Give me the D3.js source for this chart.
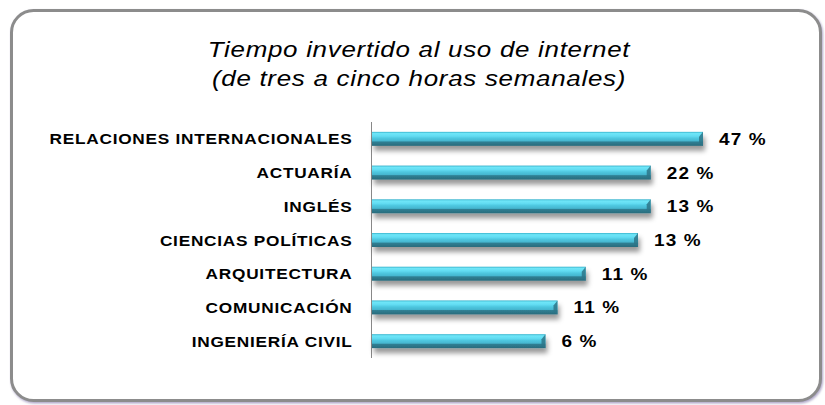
<!DOCTYPE html>
<html>
<head>
<meta charset="utf-8">
<script src="https://cdn.jsdelivr.net/npm/d3@7"></script>
<style>
  body { margin: 0; background: #fff; }
  svg { display: block; }
</style>
</head>
<body>
<div id="chart"></div>
<script>
// categories, top to bottom
var careers = ['RELACIONES INTERNACIONALES', 'ACTUARÍA', 'INGLÉS', 'CIENCIAS POLÍTICAS', 'ARQUITECTURA', 'COMUNICACIÓN', 'INGENIERÍA CIVIL']
// printed labels
var valueLabels = ['47 %', '22 %', '13 %', '13 %', '11 %', '11 %', '6 %']
// bar lengths as drawn (not proportional to the printed labels in the source)
var barValues = [47, 39.6, 39.6, 37.8, 30.4, 26.4, 24.7]
var titleLines = ['Tiempo invertido al uso de internet', '(de tres a cinco horas semanales)']

var w = 825
var h = 405

var svg = d3.select('#chart').append('svg')
  .attr('width', w)
  .attr('height', h)

var defs = svg.append('defs')

var grad = defs.append('linearGradient')
  .attr('id', 'barGrad')
  .attr('x1', 0).attr('y1', 0).attr('x2', 0).attr('y2', 1)
var stops = [
  [0, '#3ab3cc'], [0.12, '#6fe6f8'], [0.3, '#62dcf2'], [0.45, '#4fc8e0'],
  [0.65, '#45b6cf'], [0.72, '#2f7f93'], [1, '#2a6b7c']
]
stops.forEach(function (s) {
  grad.append('stop').attr('offset', s[0]).attr('stop-color', s[1])
})

var shadow = defs.append('filter').attr('id', 'barShadow')
  .attr('x', '-5%').attr('y', '-50%').attr('width', '115%').attr('height', '250%')
shadow.append('feDropShadow')
  .attr('dx', 2).attr('dy', 5).attr('stdDeviation', 2.5)
  .attr('flood-color', '#000').attr('flood-opacity', 0.4)

var frameShadow = defs.append('filter').attr('id', 'frameShadow')
  .attr('x', '-2%').attr('y', '-2%').attr('width', '104%').attr('height', '104%')
frameShadow.append('feDropShadow')
  .attr('dx', 1).attr('dy', 1.5).attr('stdDeviation', 0.8)
  .attr('flood-color', '#8a7fb0').attr('flood-opacity', 0.7)

// outer frame
svg.append('rect')
  .attr('x', 11.5).attr('y', 10.5)
  .attr('width', 809).attr('height', 390)
  .attr('rx', 22).attr('ry', 22)
  .attr('fill', '#fff')
  .attr('stroke', '#8c8c8c')
  .attr('stroke-width', 3)
  .attr('filter', 'url(#frameShadow)')

// title (source text is a bit stretched sideways)
svg.append('g').selectAll('text')
  .data(titleLines)
  .join('text')
  .attr('transform', function (d, i) { return 'translate(419,' + (57 + i * 29) + ') scale(1.18,1)' })
  .attr('text-anchor', 'middle')
  .attr('font-family', 'Liberation Sans, Arial, sans-serif')
  .attr('font-style', 'italic')
  .attr('font-size', 22)
  .attr('letter-spacing', 0.6)
  .attr('fill', '#000')
  .text(function (d) { return d })

var x = d3.scaleLinear().domain([0, 47]).range([371, 703])
var y = d3.scaleBand().domain(careers).range([122, 358])
var barH = 14

// axis line
svg.append('line')
  .attr('x1', x(0) + 0.5).attr('x2', x(0) + 0.5)
  .attr('y1', y.range()[0]).attr('y2', y.range()[1])
  .attr('stroke', '#888').attr('stroke-width', 1)

var rows = svg.append('g').selectAll('g')
  .data(careers)
  .join('g')
  .attr('transform', function (d) { return 'translate(0,' + (y(d) + y.bandwidth() / 2) + ')' })

rows.append('rect')
  .attr('x', x(0) + 1)
  .attr('y', -barH / 2)
  .attr('width', function (d, i) { return x(barValues[i]) - x(0) - 1 })
  .attr('height', barH)
  .attr('fill', 'url(#barGrad)')
  .attr('filter', 'url(#barShadow)')

// bevel at the right end
rows.append('path')
  .attr('d', function (d, i) {
    var xe = x(barValues[i])
    return 'M' + (xe - 4) + ',' + (-barH / 2 + 5) + 'L' + xe + ',' + (-barH / 2) + 'L' + xe + ',' + (barH / 2) + 'L' + (xe - 4) + ',' + (barH / 2 - 3) + 'Z'
  })
  .attr('fill', '#2e7588')
  .attr('opacity', 0.85)

// category labels
rows.append('text')
  .attr('transform', 'translate(352.5,5.5) scale(1.15,1)')
  .attr('text-anchor', 'end')
  .attr('font-family', 'Liberation Sans, Arial, sans-serif')
  .attr('font-weight', 'bold')
  .attr('font-size', 15)
  .attr('letter-spacing', 0.65)
  .attr('fill', '#000')
  .text(function (d) { return d })

// value labels
rows.append('text')
  .attr('transform', function (d, i) { return 'translate(' + (x(barValues[i]) + 16) + ',6) scale(1.15,1)' })
  .attr('font-family', 'Liberation Sans, Arial, sans-serif')
  .attr('font-weight', 'bold')
  .attr('font-size', 16.5)
  .attr('letter-spacing', 1)
  .attr('fill', '#000')
  .text(function (d, i) { return valueLabels[i] })
</script>
</body>
</html>
